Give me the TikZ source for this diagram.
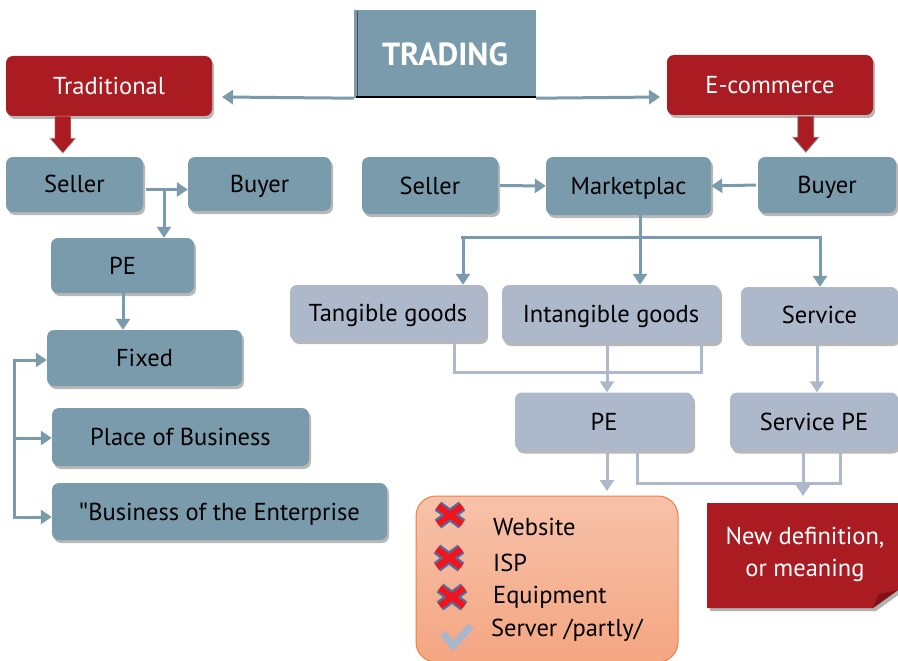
\documentclass[tikz,border=0pt]{standalone}
\usepackage{fontspec}
\setmainfont{PT Sans}
\newfontfamily\qfont{Lato}
\usetikzlibrary{shadows,arrows.meta,calc}
\definecolor{steel}{HTML}{7A9BAC}
\definecolor{lightb}{HTML}{ADB9CB}
\definecolor{redb}{HTML}{AA1C22}
\definecolor{darkred}{HTML}{7E1418}
\definecolor{orfill}{HTML}{F7C2AA}
\definecolor{orfill2}{HTML}{F4A682}
\definecolor{orline}{HTML}{EE7F3C}
\definecolor{xblue}{HTML}{4F6FA0}
\definecolor{xred}{HTML}{F0141E}
\definecolor{chk}{HTML}{A8B7CB}
\tikzset{
  base/.style={rounded corners=7pt, inner sep=0pt, font=\fontsize{24.5}{28}\selectfont,
    text height=17pt, text depth=0pt,
    drop shadow={shadow xshift=2pt, shadow yshift=-3pt, fill=black!35, opacity=0.8}},
  darkbox/.style={base, fill=steel, text=black},
  lightbox/.style={base, fill=lightb, text=black},
  redbox/.style={base, fill=redb, text=white},
  dconn/.style={draw=steel, line width=3pt, -{Triangle[length=11pt,width=14pt]}},
  dline/.style={draw=steel, line width=3pt},
  lconn/.style={draw=lightb, line width=3pt, -{Triangle[length=11pt,width=14pt]}},
  lline/.style={draw=lightb, line width=3pt},
  xmark/.style={line width=11pt, draw=xblue},
  xmarkin/.style={line width=6.5pt, draw=xred},
  item/.style={anchor=west, inner sep=0pt, font=\fontsize{24.5}{28}\selectfont}
}
\begin{document}
\begin{tikzpicture}[x=1pt,y=-1pt]
\useasboundingbox (0,0) rectangle (898,661);
% Title
\node[fill=steel, minimum width=182pt, minimum height=88pt, inner sep=0pt, text=white,
  font=\bfseries\fontsize{32}{36}\selectfont] (trading) at (445,54) {TRADING};
\draw[black!70, line width=1pt] (357,11) -- (357,97);
\draw[black, line width=2.5pt] (356,97) -- (536,97);
% Top level
\node[redbox, minimum width=206pt, minimum height=60pt] (trad) at (109,86) {Traditional};
\node[redbox, minimum width=206pt, minimum height=60pt] (ecom) at (770,85) {E-commerce};
\coordinate (tl) at (222,97);
\coordinate (tr) at (660,97);
\draw[dconn] (trading.south west) -- (tl);
\draw[dconn] (trading.south east) -- (tr);
% Left column
\node[darkbox, minimum width=137pt, minimum height=55pt] (seller1) at (74.5,184.5) {Seller};
\node[darkbox, minimum width=143pt, minimum height=54pt] (buyer1) at (259.5,184) {Buyer};
\node[darkbox, minimum width=143pt, minimum height=55pt] (pe1) at (122.5,265.5) {PE};
\node[darkbox, minimum width=195pt, minimum height=56pt] (fixed) at (144.5,358) {Fixed};
\node[darkbox, minimum width=257pt, minimum height=58pt] (place) at (180.5,437) {Place of Business};
\node[darkbox, minimum width=335pt, minimum height=57pt] (biz) at (219.5,511.5) {{\qfont\symbol{34}}Business of the Enterprise};
% Right column
\node[darkbox, minimum width=136pt, minimum height=57pt] (seller2) at (430,185.5) {Seller};
\node[darkbox, minimum width=165pt, minimum height=58pt] (market) at (628.5,186) {Marketplac};
\node[darkbox, minimum width=138pt, minimum height=56pt] (buyer2) at (827,185) {Buyer};
\node[lightbox, minimum width=196pt, minimum height=56pt] (tang) at (388,313) {Tangible goods};
\node[lightbox, minimum width=218pt, minimum height=58pt] (intang) at (611,314) {Intangible goods};
\node[lightbox, minimum width=157pt, minimum height=56pt] (service) at (819.5,315) {Service};
\node[lightbox, minimum width=178pt, minimum height=58pt] (pe2) at (604,421.5) {PE};
\node[lightbox, minimum width=168pt, minimum height=58pt] (spe) at (814,421.5) {Service PE};
% Red block arrows
\fill[redb, draw=black!30, line width=0.6pt]
  ($(trad.south west)+(49,0)$) -- ++(16,0) -- ++(0,22) -- ++(5,0) -- ++(-13,15) -- ++(-13,-15) -- ++(5,0) -- cycle;
\fill[redb, draw=black!45, line width=0.8pt]
  ($(ecom.south west)+(131,1)$) -- ++(16,0) -- ++(0,21) -- ++(5,0) -- ++(-13,15) -- ++(-13,-15) -- ++(5,0) -- cycle;
% Left connectors
\coordinate (sb) at ($(seller1.east)+(3,5)$);
\draw[dconn] (sb) -- (sb -| buyer1.west);
\coordinate (sbd) at (164,190);
\draw[dconn] (sbd) -- (sbd |- pe1.north);
\draw[dconn] (123,0 |- pe1.south) -- (123,0 |- fixed.north);
\coordinate (lb) at (14,517);
\draw[dline] (lb) -- (14,360);
\draw[dconn] (12.5,360) -- (12.5,360 -| fixed.west);
\draw[dconn] (14,438) -- (14,438 -| place.west);
\draw[dconn] (12.5,517) -- (12.5,517 -| biz.west);
% Right connectors
\draw[dconn] ($(seller2.east)+(2,0)$) -- (market.west);
\draw[dconn] ($(buyer2.west)+(-2,0)$) -- (market.east);
\coordinate (mb) at (640,237);
\draw[dline] (640,0 |- market.south) -- (mb);
\draw[dline] (461,237) -- (821.5,237);
\draw[dconn] (463,235.5) -- (463,0 |- tang.north);
\draw[dconn] (mb) -- (640,0 |- intang.north);
\draw[dconn] (820,235.5) -- (820,0 |- service.north);
% light connectors
\draw[lline] (454,0 |- tang.south) -- (454,372) -- (701,372) -- (701,0 |- intang.south);
\draw[lconn] (607,0 |- intang.south) -- (607,0 |- pe2.north);
\draw[lconn] (817,0 |- service.south) -- (817,0 |- spe.north);
\coordinate (pet) at (607,491);
\draw[lconn] (607,0 |- pe2.south) -- (pet);
\draw[lline] (637,0 |- pe2.south) -- (637,483) -- (840,483) -- (840,0 |- spe.south);
\coordinate (spt) at (803,496);
\draw[lconn] (803,0 |- spe.south) -- (spt);
% Orange box
\node[rounded corners=20pt, top color=orfill, bottom color=orfill2, draw=orline, line width=1pt,
  minimum width=262pt, minimum height=166pt, inner sep=0pt] (obox) at (547,579) {};
\foreach \cx/\cy in {450/515, 449/558, 452/597}{
  \draw[xmark] (\cx-12,\cy-9) -- (\cx+12,\cy+9) (\cx-12,\cy+9) -- (\cx+12,\cy-9);
  \draw[xmarkin] (\cx-12,\cy-9) -- (\cx+12,\cy+9) (\cx-12,\cy+9) -- (\cx+12,\cy-9);
}
\draw[chk, line width=7pt] (443,633) -- (453,646) -- (471,626);
\node[item] (w1) at (493,527) {Website};
\node[item] (w2) at (493,563) {ISP};
\node[item] (w3) at (493,597) {Equipment};
\node[item] (w4) at (491,630) {Server /partly/};
% New definition
\fill[black!30] (710,506) -- (901,506) -- (901,593) -- (876,611) -- (710,611) -- cycle;
\fill[redb] (707,503) -- (898,503) -- (898,590) -- (873,608) -- (707,608) -- cycle;
\fill[darkred] (873,608) -- (898,590) -- (879,594) -- cycle;
\node[text=white, align=center, inner sep=0pt, font=\fontsize{24.5}{32}\selectfont] (newdef) at (805,554) {New definition,\\or meaning};
\end{tikzpicture}
\end{document}
